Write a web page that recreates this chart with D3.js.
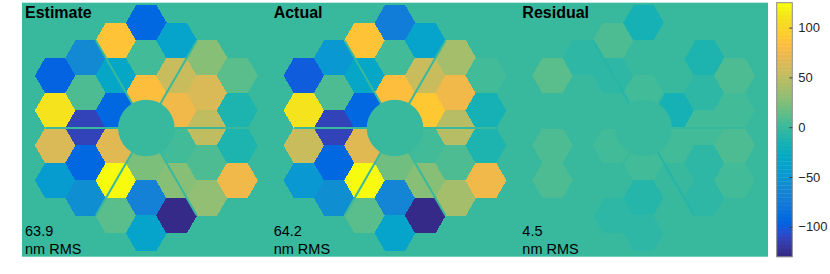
<!DOCTYPE html>
<html><head><meta charset="utf-8">
<script src="https://cdn.jsdelivr.net/npm/d3@7"></script>
<style>html,body{margin:0;padding:0;background:#fff;}svg{display:block;}</style>
</head><body>
<svg id="chart" width="830" height="274"></svg>
<script>
// ---------- data ----------
const panelTitles = ["Estimate", "Actual", "Residual"];
const rmsValues = ["63.9", "64.2", "4.5"];
const rmsUnit = "nm RMS";
// segment pistons (nm), segments ordered by column (left→right), top→bottom
const estimate = [
  -95, 110, 62, -45,
  -60, 8, -113, -92, -58,
  86, -32, -92, 68, 123, 10,
  -92, 3, 85, 24, -70, -36,
  -38, 55, 76, 4, 26, -127,
  28, 65, 50, 6, 32,
  12, -14, -12, 74
];
const actual = [
  -100, 110, 54, -50,
  -50, 6, -113, -92, -58,
  86, -32, -92, 66, 123, 12,
  -74, 3, 84, 20, -64, -36,
  -36, 56, 92, 2, 28, -127,
  38, 74, 47, 8, 40,
  5, -16, -14, 74
];
const residual = [
  10, 1, 8, 8,
  -4, 1, 0, 0, 0,
  6, -3, 0, 2, -1, -3,
  -15, -2, 5, 3, -9, -3,
  -1, 0, -15, 3, -2, 1,
  -12, -6, 4, -4, -6,
  8, 4, 9, 5
];
const panelData = [estimate, actual, residual];
// spider leg values per panel: legs at 0°,60°,120°,180°,240°,300°
const spiderValues = [
  [0, 0, 0, 0, 0, 0],
  [0, 0, 0, 0, 0, 0],
  [0, 0, -9, 0, 0, -7]
];
const obscurationValue = [0, 0, 0];
const colorTicks = [100, 50, 0, -50, -100];
const clim = [-130, 125];
// MATLAB parula (64)
const parula = [
[0.2081,0.1663,0.5292],[0.2116,0.1898,0.5777],[0.2123,0.2138,0.6270],[0.2081,0.2386,0.6771],
[0.1959,0.2645,0.7279],[0.1707,0.2919,0.7792],[0.1253,0.3242,0.8303],[0.0591,0.3598,0.8683],
[0.0117,0.3875,0.8820],[0.0060,0.4086,0.8828],[0.0165,0.4266,0.8786],[0.0329,0.4430,0.8720],
[0.0498,0.4586,0.8641],[0.0629,0.4737,0.8554],[0.0723,0.4887,0.8467],[0.0779,0.5040,0.8384],
[0.0793,0.5200,0.8312],[0.0749,0.5375,0.8263],[0.0641,0.5570,0.8240],[0.0488,0.5772,0.8228],
[0.0343,0.5966,0.8199],[0.0265,0.6137,0.8135],[0.0239,0.6287,0.8038],[0.0231,0.6418,0.7913],
[0.0228,0.6535,0.7768],[0.0267,0.6642,0.7607],[0.0384,0.6743,0.7436],[0.0590,0.6838,0.7254],
[0.0843,0.6928,0.7062],[0.1133,0.7015,0.6859],[0.1453,0.7098,0.6646],[0.1801,0.7177,0.6424],
[0.2178,0.7250,0.6193],[0.2586,0.7317,0.5954],[0.3022,0.7376,0.5712],[0.3482,0.7424,0.5473],
[0.3953,0.7459,0.5244],[0.4420,0.7481,0.5033],[0.4871,0.7491,0.4840],[0.5300,0.7491,0.4661],
[0.5709,0.7485,0.4494],[0.6099,0.7473,0.4337],[0.6473,0.7456,0.4188],[0.6834,0.7435,0.4044],
[0.7184,0.7411,0.3905],[0.7525,0.7384,0.3768],[0.7858,0.7356,0.3633],[0.8185,0.7327,0.3498],
[0.8507,0.7299,0.3360],[0.8824,0.7274,0.3217],[0.9139,0.7258,0.3063],[0.9450,0.7261,0.2886],
[0.9739,0.7314,0.2666],[0.9938,0.7455,0.2403],[0.9990,0.7653,0.2164],[0.9955,0.7861,0.1967],
[0.9880,0.8066,0.1794],[0.9789,0.8271,0.1633],[0.9697,0.8481,0.1475],[0.9626,0.8705,0.1309],
[0.9589,0.8949,0.1132],[0.9598,0.9218,0.0948],[0.9661,0.9514,0.0755],[0.9763,0.9831,0.0538]
];

// ---------- layout ----------
const svg = d3.select("#chart");
const imgLeft = 22, imgRight = 768, imgTop = 2.7, imgBottom = 256.7;
const panelW = (imgRight - imgLeft) / 3;
const rings = 3;
const hexR = 20.2;           // px circumradius
const obscR = 1.4;           // in segment units
const cy0 = 128;

const panelX = d3.scaleBand().domain(d3.range(3)).range([imgLeft, imgRight]).paddingInner(0).paddingOuter(0);
const ux = d3.scaleLinear().domain([0, 1]).range([0, hexR]);

const bins = parula.map(c => d3.rgb(c[0]*255, c[1]*255, c[2]*255).formatHex());
const colorQ = d3.scaleQuantize().domain(clim).range(bins);
const color = v => colorQ(Math.max(clim[0], Math.min(clim[1], v)));

// hex lattice (flat-top), 3 rings, no center segment
const segs = [];
for (let q = -rings; q <= rings; q++) {
  for (let r = -rings; r <= rings; r++) {
    const s = -q - r;
    if (Math.max(Math.abs(q), Math.abs(r), Math.abs(s)) > rings) continue;
    if (q === 0 && r === 0) continue;
    segs.push({q, row: r + q / 2});
  }
}
segs.sort((a, b) => a.q - b.q || a.row - b.row);

function hexPath(cx, cy, R) {
  const pts = d3.range(6).map(i => {
    const a = Math.PI / 3 * i;
    return [cx + R * Math.cos(a), cy + R * Math.sin(a)];
  });
  return "M" + pts.map(p => p.join(",")).join("L") + "Z";
}

// one continuous image background
svg.append("rect").attr("x", imgLeft).attr("y", imgTop).attr("width", imgRight - imgLeft)
  .attr("height", imgBottom - imgTop).attr("fill", color(0));

panelTitles.forEach((title, p) => {
  const x0 = panelX(p);
  const cx = x0 + panelW / 2;
  const g = svg.append("g");
  const vals = panelData[p];
  g.selectAll("path.seg").data(segs).join("path")
    .attr("class", "seg")
    .attr("d", d => hexPath(cx + ux(1.5 * d.q), cy0 + ux(Math.sqrt(3) * d.row), hexR + 0.3))
    .attr("fill", (d, i) => color(vals[i]))
    .attr("shape-rendering", "crispEdges");
  spiderValues[p].forEach((v, k) => {
    const a = -Math.PI / 3 * k;
    g.append("line")
      .attr("x1", cx).attr("y1", cy0)
      .attr("x2", cx + ux(5) * Math.cos(a)).attr("y2", cy0 + ux(5) * Math.sin(a))
      .attr("stroke", color(v)).attr("stroke-width", 2);
  });
  g.append("circle").attr("cx", cx).attr("cy", cy0).attr("r", ux(obscR))
    .attr("fill", color(obscurationValue[p]));
  g.append("text").attr("x", x0 + 3).attr("y", 18.3)
    .attr("font-family", "Liberation Sans, Arial, sans-serif").attr("font-weight", "bold")
    .attr("font-size", 16).attr("fill", "#000").text(title);
  g.append("text").attr("x", x0 + 3).attr("y", 235.5)
    .attr("font-family", "Liberation Sans, Arial, sans-serif")
    .attr("font-size", 14.5).attr("fill", "#000").text(rmsValues[p]);
  g.append("text").attr("x", x0 + 3).attr("y", 254)
    .attr("font-family", "Liberation Sans, Arial, sans-serif")
    .attr("font-size", 14.5).attr("fill", "#000").text(rmsUnit);
});

// ---------- colorbar ----------
const cbX = 776.7, cbW = 15.6;
const cbY = d3.scaleLinear().domain(clim).range([imgBottom, imgTop]);
const cbBands = d3.range(bins.length);
const step = (clim[1] - clim[0]) / bins.length;
const cb = svg.append("g");
cb.selectAll("rect.band").data(cbBands).join("rect")
  .attr("class", "band")
  .attr("x", cbX).attr("width", cbW)
  .attr("y", i => cbY(clim[0] + (i + 1) * step))
  .attr("height", i => cbY(clim[0] + i * step) - cbY(clim[0] + (i + 1) * step) + 0.4)
  .attr("fill", i => bins[i]);
cb.append("rect").attr("x", cbX).attr("y", imgTop).attr("width", cbW).attr("height", imgBottom - imgTop)
  .attr("fill", "none").attr("stroke", "#8c8c8c").attr("stroke-width", 1);
const axis = d3.axisRight(cbY).tickValues(colorTicks).tickSize(-3).tickPadding(6);
const ax = svg.append("g").attr("transform", `translate(${cbX + cbW},0)`).call(axis);
ax.select(".domain").remove();
ax.selectAll(".tick line").attr("stroke", "#404040");
ax.selectAll(".tick text").attr("font-family", "Liberation Sans, Arial, sans-serif")
  .attr("font-size", 13).attr("fill", "#262626");
</script>
</body></html>
